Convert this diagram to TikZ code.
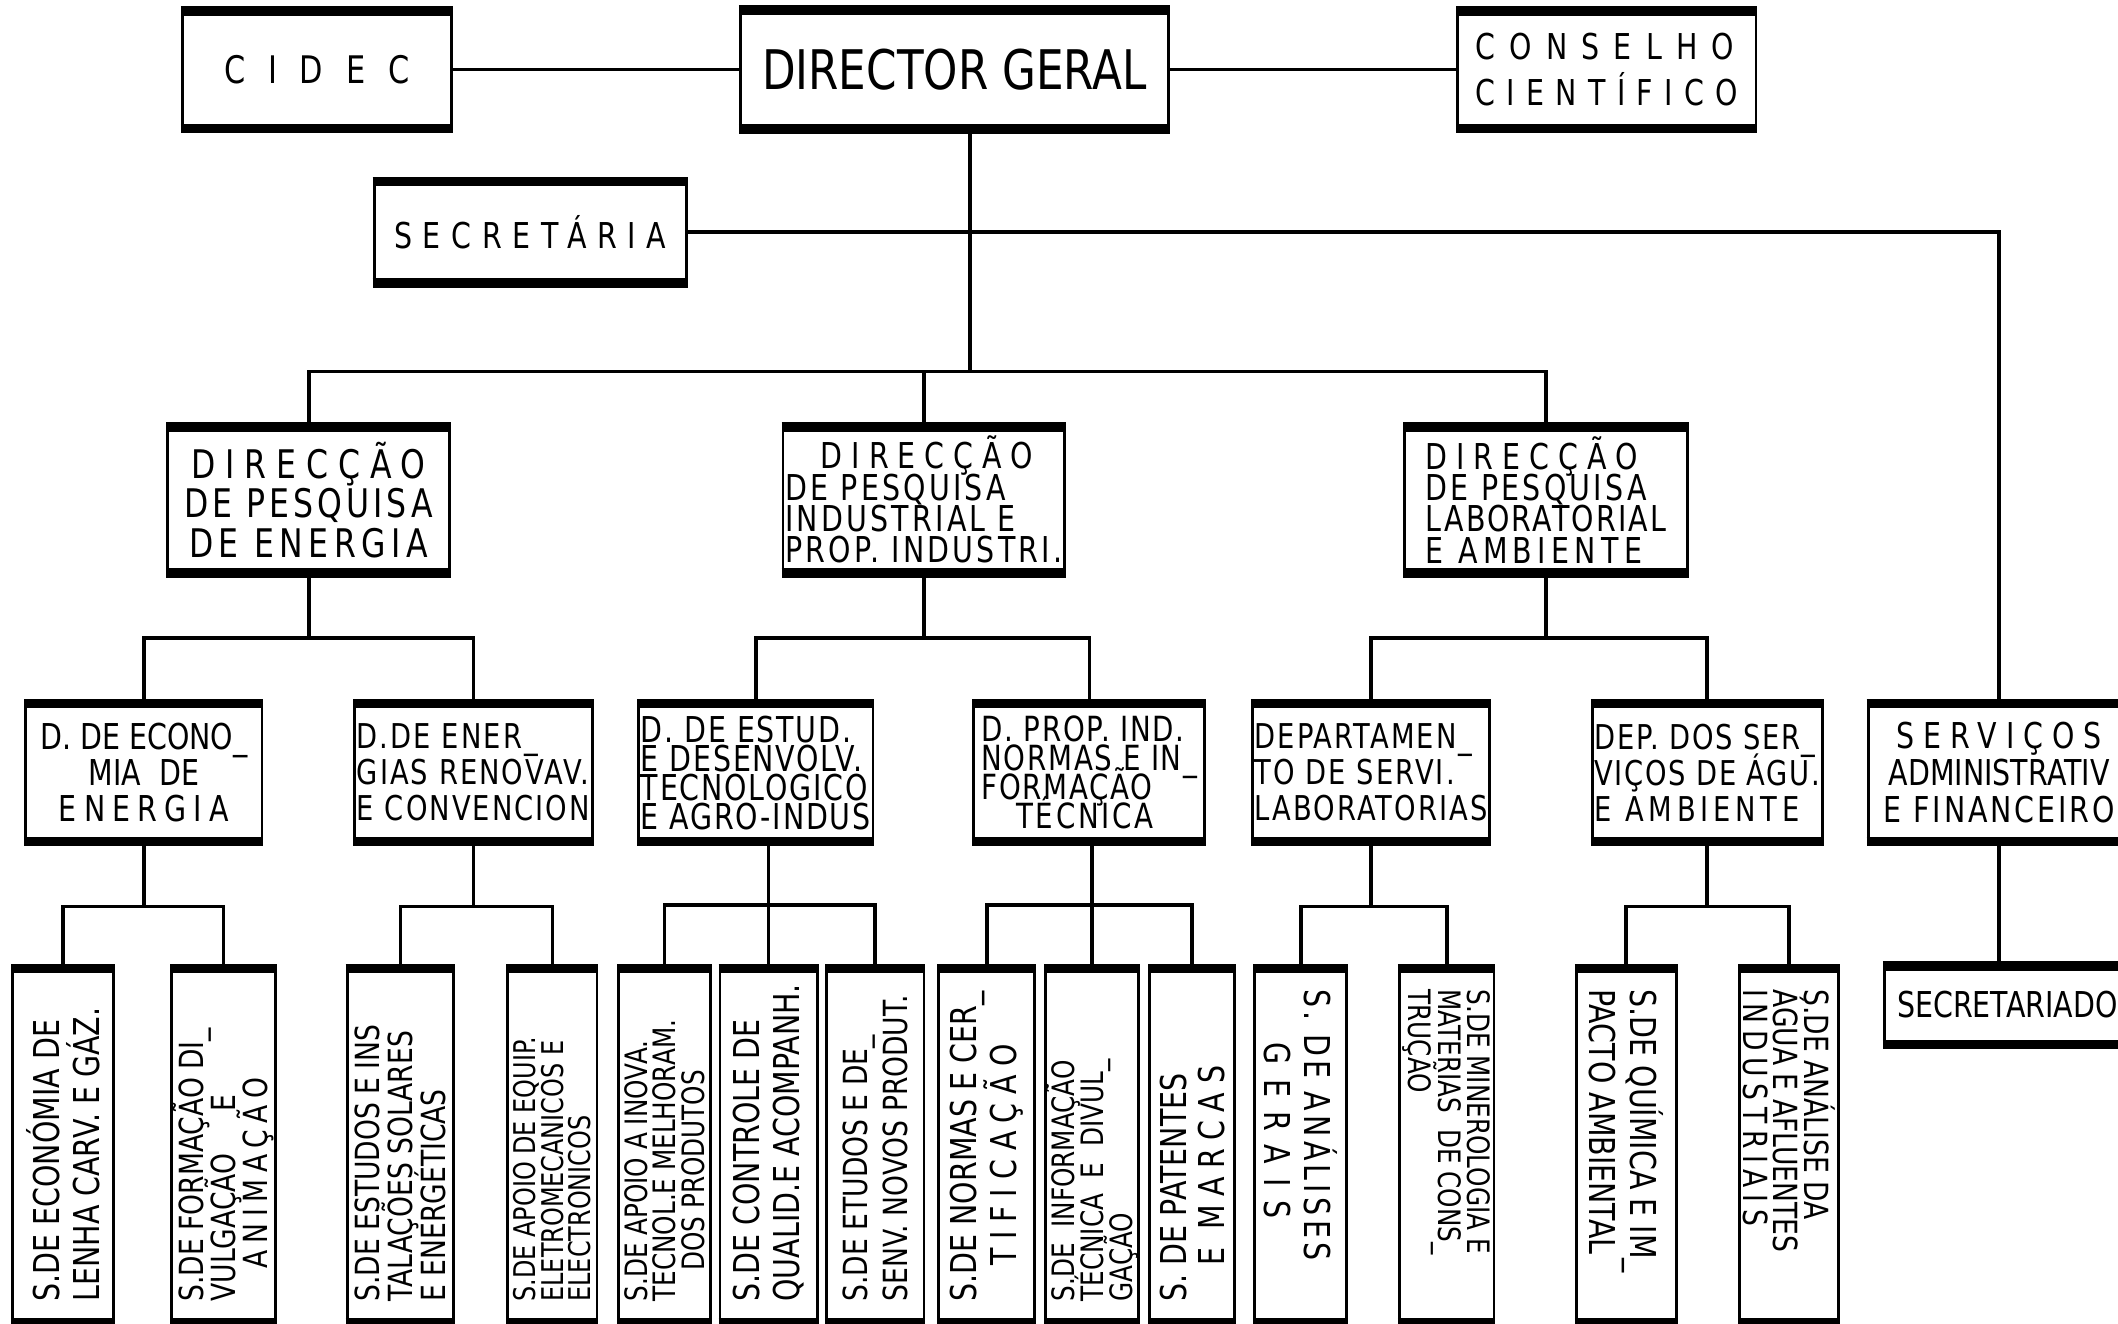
\documentclass[tikz,border=0pt]{standalone}
\usepackage{fontspec}
\setmainfont{DejaVu Sans}[FakeStretch=0.8]
\usepackage{graphicx}
\lineskiplimit=-\maxdimen
\newcommand\tracked[2]{{\addfontfeature{LetterSpace=#1}#2}}
\newcommand\nodefont[2]{\fontsize{#1}{#2}\selectfont\lineskiplimit=-\maxdimen\relax}
\newcommand\vlabel[4]{\makebox[0pt]{\rotatebox{#1}{\parbox{2.55cm}{\nodefont{#2}{#3}\raggedright\leftskip=0.12cm #4}}}}

\begin{document}
\begin{tikzpicture}[
    unit/.style ={draw, line width=0.6pt, inner sep=0.5pt,
      append after command={
        (\tikzlastnode.north west) edge[line width=2pt] (\tikzlastnode.north east)
        (\tikzlastnode.south west) edge[line width=2pt] (\tikzlastnode.south east)}},
    topunit/.style ={unit, minimum height=0.85cm, align=center},
    direccao/.style ={unit, minimum height=1.06cm, align=center},
    departamento/.style ={unit, minimum height=1.0cm, align=left},
    servico/.style ={unit, minimum height=2.6cm},
    link/.style ={line width=0.8pt}]
   \useasboundingbox (0,0) rectangle (15.68,-9.80);
   \clip (0,0) rectangle (15.68,-9.80);

   % top
   \node[topunit, minimum width=1.99cm, font=\nodefont{8}{9}] (cidec) at (2.345,-0.515) {\tracked{60}{CIDEC}};
   \node[topunit, minimum width=3.17cm, minimum height=0.86cm, font=\nodefont{11.5}{13}] (dg) at (7.065,-0.515) {DIRECTOR GERAL};
   \node[topunit, minimum width=2.21cm, align=left, font=\nodefont{7.5}{9.5}] (cc) at (11.895,-0.515) {\tracked{40}{CONSELHO}\\\tracked{32}{CIENTÍFICO}};
   \node[topunit, minimum width=2.31cm, minimum height=0.73cm, font=\nodefont{7.5}{9}] (sec) at (3.925,-1.72) {\tracked{30}{SECRETÁRIA}};

   % direccoes
   \node[direccao, minimum width=2.09cm, font=\nodefont{8.3}{8.3}] (dpe) at (2.285,-3.70) {\tracked{25}{DIRECÇÃO}\\\tracked{10}{DE PESQUISA}\\\tracked{14}{DE ENERGIA}};
   \node[direccao, minimum width=2.06cm, align=left, font=\nodefont{7.5}{6.6}] (dpi) at (6.84,-3.70) {\quad\tracked{25}{DIRECÇÃO}\\\tracked{9}{DE PESQUISA}\\\tracked{9}{INDUSTRIAL E}\\\tracked{9}{PROP. INDUSTRI.}};
   \node[direccao, minimum width=2.09cm, align=left, font=\nodefont{7.5}{6.6}] (dpl) at (11.445,-3.70) {\tracked{25}{DIRECÇÃO}\\\tracked{9}{DE PESQUISA}\\\tracked{6}{LABORATORIAL}\\\tracked{15}{E AMBIENTE}};

   % departamentos
   \node[departamento, minimum width=1.75cm, align=center, font=\nodefont{7.5}{7.6}] (dee) at (1.065,-5.72) {D. DE ECONO\_\\MIA~~DE\\\tracked{20}{ENERGIA}};
   \node[departamento, minimum width=1.73cm, font=\nodefont{7.2}{7.6}] (der) at (3.505,-5.72) {\tracked{6}{D.DE ENER\_}\\\tracked{6}{GIAS RENOVAV.}\\\tracked{6}{E CONVENCION}};
   \node[departamento, minimum width=1.73cm, font=\nodefont{7.5}{6.1}] (des) at (5.595,-5.72) {\tracked{5}{D. DE ESTUD.}\\\tracked{5}{E DESENVOLV.}\\\tracked{5}{TECNOLOGICO}\\\tracked{5}{E AGRO-INDUS}};
   \node[departamento, minimum width=1.71cm, font=\nodefont{7.3}{6.1}] (dpp) at (8.065,-5.72) {\tracked{5}{D. PROP. IND.}\\\tracked{5}{NORMAS E IN\_}\\\tracked{5}{FORMAÇÃO}\\\quad\tracked{8}{TÉCNICA}};
   \node[departamento, minimum width=1.70cm, font=\nodefont{7.2}{7.6}] (dsl) at (10.15,-5.72) {\tracked{6}{DEPARTAMEN\_}\\\tracked{6}{TO DE SERVI.}\\\tracked{6}{LABORATORIAS}};
   \node[departamento, minimum width=1.70cm, font=\nodefont{7.2}{7.6}] (dsa) at (12.64,-5.72) {\tracked{5}{DEP. DOS SER\_}\\\tracked{5}{VIÇOS DE ÁGU.}\\\tracked{14}{E AMBIENTE}};
   \node[departamento, minimum width=1.94cm, align=center, font=\nodefont{7.5}{7.8}] (sa) at (14.80,-5.72) {\tracked{25}{SERVIÇOS}\\ADMINISTRATIV\\\tracked{8}{E FINANCEIRO}};

   % servicos
   \node[servico, minimum width=0.745cm] (sEcon) at (0.4675,-8.48) {\vlabel{90}{7.5}{8.5}{S.DE ECONÓMIA DE\\LENHA CARV. E GÁZ.}};
   \node[servico, minimum width=0.77cm] (sForm) at (1.655,-8.48) {\vlabel{90}{7}{6.8}{S.DE FORMAÇÃO DI\_\\VULGAÇÃO \quad E\\\quad\tracked{20}{ANIMAÇÃO}}};
   \node[servico, minimum width=0.79cm] (sEst) at (2.965,-8.48) {\vlabel{90}{7}{7}{S.DE ESTUDOS E INS\\TALAÇÕES SOLARES\\E ENERGÉTICAS}};
   \node[servico, minimum width=0.66cm] (sApEq) at (4.09,-8.48) {\vlabel{90}{6.3}{5.8}{S.DE APOIO DE EQUIP.\\ELETROMECANICOS E\\ELECTRONICOS}};
   \node[servico, minimum width=0.68cm] (sApIn) at (4.92,-8.48) {\vlabel{90}{6.5}{6}{S.DE APOIO A INOVA.\\TECNOL.E MELHORAM.\\\quad DOS PRODUTOS}};
   \node[servico, minimum width=0.72cm] (sCtrl) at (5.69,-8.48) {\vlabel{90}{7.5}{8.3}{S.DE CONTROLE DE\\QUALID.E ACOMPANH.}};
   \node[servico, minimum width=0.72cm] (sNov) at (6.48,-8.48) {\vlabel{90}{7}{8.3}{S.DE ETUDOS E DE\_\\SENV. NOVOS PRODUT.}};
   \node[servico, minimum width=0.71cm] (sNorm) at (7.305,-8.48) {\vlabel{90}{7.5}{8.3}{S.DE NORMAS E CER\_\\\quad\tracked{25}{TIFICAÇÃO}}};
   \node[servico, minimum width=0.69cm] (sInf) at (8.085,-8.48) {\vlabel{90}{6.5}{6.1}{S.DE \ INFORMAÇÃO\\TÉCNICA \ E \ DIVUL\_\\GAÇÃO}};
   \node[servico, minimum width=0.63cm] (sPat) at (8.825,-8.48) {\vlabel{90}{7.5}{8}{S. DE PATENTES\\\quad\tracked{25}{E MARCAS}}};
   \node[servico, minimum width=0.68cm] (sAnG) at (9.63,-8.48) {\vlabel{-90}{7.5}{8.3}{\tracked{12}{S. DE ANÁLISES}\\\hspace*{1.5em}\tracked{40}{GERAIS}}};
   \node[servico, minimum width=0.70cm] (sMin) at (10.71,-8.48) {\vlabel{-90}{6.5}{6.2}{S.DE MINEROLOGIA E\\MATERIAS \ DE CONS\_\\TRUÇÃO}};
   \node[servico, minimum width=0.74cm] (sQui) at (12.04,-8.48) {\vlabel{-90}{7.5}{8.5}{S.DE QUÍMICA E IM\_\\PACTO AMBIENTAL}};
   \node[servico, minimum width=0.73cm] (sAgu) at (13.245,-8.48) {\vlabel{-90}{7}{6.5}{S.DE ANÁLISE DA\\ÁGUA E AFLUENTES\\\tracked{20}{INDUSTRIAIS}}};
   \node[unit, minimum width=1.82cm, minimum height=0.56cm, font=\nodefont{7.5}{9}] (secd) at (14.86,-7.44) {SECRETARIADO};

   % ligacoes
   \draw[link] (cidec) -- (dg);
   \draw[link] (dg) -- (cc);
   \coordinate (j2) at (7.18,-2.75);
   \draw[link] (dg.south -| j2) -- (j2);
   \draw[link] (dpe.north) |- (j2) -| (dpl.north);
   \draw[link] (dpi.north) -- (dpi.north |- j2);
   \draw[link] (sec.east) -| (sa.north);

   \draw[link] (dpe.south) -- ++(0,-0.48) coordinate (j3e);
   \draw[link] (dee.north) |- (j3e) -| (der.north);
   \draw[link] (dpi.south) -- ++(0,-0.48) coordinate (j3i);
   \draw[link] (des.north) |- (j3i) -| (dpp.north);
   \draw[link] (dpl.south) -- ++(0,-0.48) coordinate (j3l);
   \draw[link] (dsl.north) |- (j3l) -| (dsa.north);

   \draw[link] (dee.south) -- ++(0,-0.48) coordinate (j4e);
   \draw[link] (sEcon.north) |- (j4e) -| (sForm.north);
   \draw[link] (der.south) -- ++(0,-0.48) coordinate (j4r);
   \draw[link] (sEst.north) |- (j4r) -| (sApEq.north);
   \coordinate (j4s) at (sCtrl.north |- 0,-6.70);
   \draw[link] (des.south -| j4s) -- (sCtrl.north);
   \draw[link] (sApIn.north) |- (j4s) -| (sNov.north);
   \coordinate (j4p) at (sInf.north |- 0,-6.70);
   \draw[link] (dpp.south -| j4p) -- (sInf.north);
   \draw[link] (sNorm.north) |- (j4p) -| (sPat.north);
   \draw[link] (dsl.south) -- ++(0,-0.48) coordinate (j4l);
   \draw[link] (sAnG.north) |- (j4l) -| (sMin.north);
   \draw[link] (dsa.south) -- ++(0,-0.48) coordinate (j4a);
   \draw[link] (sQui.north) |- (j4a) -| (sAgu.north);
   \draw[link] (sa.south) -- (sa.south |- secd.north);
 \end{tikzpicture}
\end{document}
